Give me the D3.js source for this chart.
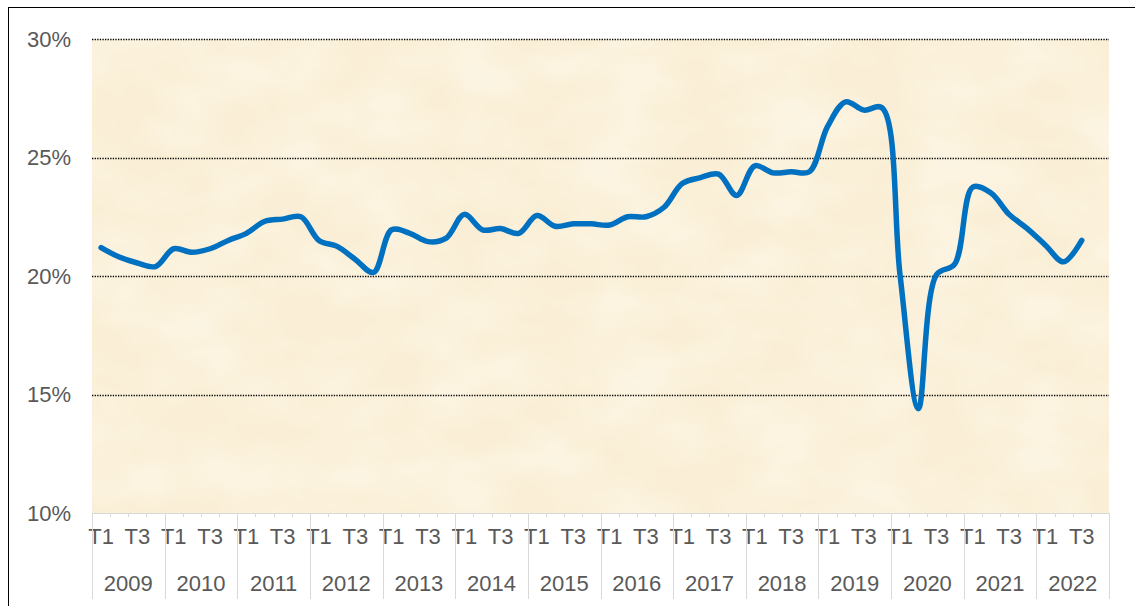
<!DOCTYPE html>
<html>
<head>
<meta charset="utf-8">
<script src="https://cdn.jsdelivr.net/npm/d3@7"></script>
<style>
  body { margin: 0; background: #fff; }
  svg { display: block; font-family: "Liberation Sans", Arial, sans-serif; }
</style>
</head>
<body>
<div id="chart"></div>
<script>
// quarterly rate, 2009 T1 .. 2022 T3
var years = [2009, 2010, 2011, 2012, 2013, 2014, 2015, 2016, 2017, 2018, 2019, 2020, 2021, 2022];
var quarters = ["T1", "T2", "T3", "T4"];
var shownQuarters = ["T1", "T3"];
var rate = [
  21.2, 20.8, 20.55, 20.4,
  21.15, 21.0, 21.15, 21.5,
  21.8, 22.3, 22.4, 22.5,
  21.5, 21.25, 20.7, 20.15,
  21.95, 21.8, 21.45, 21.6,
  22.6, 21.95, 22.0, 21.8,
  22.55, 22.1, 22.2, 22.2,
  22.15, 22.5, 22.5, 22.9,
  23.9, 24.15, 24.3, 23.4,
  24.65, 24.35, 24.4, 24.4,
  26.3, 27.35, 27.0, 27.1,
  20.0, 14.4, 20.05, 20.5,
  23.75, 23.5, 22.6, 22.0,
  21.3, 20.6, 21.5
];
var yTicks = [10, 15, 20, 25, 30];

var W = 1135, H = 606;
var plot = {left: 92, right: 1109, top: 39, bottom: 513};

var svg = d3.select("#chart").append("svg")
    .attr("width", W)
    .attr("height", H);

// chart frame (runs off the right/bottom edge)
svg.append("rect")
    .attr("x", 8.5).attr("y", 7.5)
    .attr("width", 1300).attr("height", 800)
    .attr("fill", "#fff")
    .attr("stroke", "#000")
    .attr("stroke-width", 1);

var keys = [];
years.forEach(function(y) {
  quarters.forEach(function(q) { keys.push(y + "-" + q); });
});
var data = rate.map(function(v, i) { return {key: keys[i], value: v}; });

var x = d3.scaleBand()
    .domain(keys)
    .range([plot.left, plot.right])
    .padding(0);

var xYear = d3.scaleBand()
    .domain(years)
    .range([plot.left, plot.right])
    .padding(0);

var y = d3.scaleLinear()
    .domain([10, 30])
    .range([plot.bottom, plot.top]);

// parchment-like plot background
var defs = svg.append("defs");
var f = defs.append("filter").attr("id", "paper")
    .attr("x", 0).attr("y", 0).attr("width", 1).attr("height", 1);
f.append("feTurbulence")
    .attr("type", "fractalNoise")
    .attr("baseFrequency", "0.012 0.02")
    .attr("numOctaves", 3)
    .attr("seed", 4)
    .attr("result", "noise");
f.append("feColorMatrix")
    .attr("in", "noise")
    .attr("type", "matrix")
    .attr("values", "0 0 0 0 1  0 0 0 0 0.97  0 0 0 0 0.9  0 0 0 0.9 -0.3")
    .attr("result", "tint");
f.append("feComposite").attr("in", "tint").attr("in2", "SourceGraphic").attr("operator", "in");

svg.append("rect")
    .attr("x", plot.left).attr("y", plot.top)
    .attr("width", plot.right - plot.left)
    .attr("height", plot.bottom - plot.top)
    .attr("fill", "#faefd6");
svg.append("rect")
    .attr("x", plot.left).attr("y", plot.top)
    .attr("width", plot.right - plot.left)
    .attr("height", plot.bottom - plot.top)
    .attr("fill", "#000")
    .attr("filter", "url(#paper)");

// dotted gridlines
svg.append("g")
  .selectAll("line")
  .data(yTicks.filter(function(t) { return t > 10; }))
  .enter().append("line")
    .attr("x1", plot.left).attr("x2", plot.right)
    .attr("y1", function(d) { return Math.round(y(d)) + 0.5; })
    .attr("y2", function(d) { return Math.round(y(d)) + 0.5; })
    .attr("stroke", "#000")
    .attr("stroke-width", 1.6)
    .attr("stroke-dasharray", "1.3,1.3");

// y axis labels
var yAxis = svg.append("g")
    .attr("transform", "translate(" + plot.left + ",0)")
    .call(d3.axisLeft(y).tickValues(yTicks).tickSize(0).tickPadding(21)
      .tickFormat(function(d) { return d + "%"; }));
yAxis.select(".domain").remove();
yAxis.selectAll("text")
    .attr("fill", "#595959")
    .style("font-size", "22px")
    .style("font-family", "Liberation Sans, Arial, sans-serif");

// x axis: quarter ticks
var xAxis = svg.append("g")
    .attr("transform", "translate(0," + plot.bottom + ")")
    .call(d3.axisBottom(x).tickSize(0).tickPadding(15)
      .tickFormat(function(d) {
        var q = d.split("-")[1];
        return shownQuarters.indexOf(q) >= 0 ? q : "";
      }));
xAxis.select(".domain")
    .attr("stroke", "#d9d9d9");
xAxis.selectAll("text")
    .attr("fill", "#595959")
    .style("font-size", "22px")
    .style("font-family", "Liberation Sans, Arial, sans-serif");

// minor tick marks between quarters
svg.append("g")
  .selectAll("line")
  .data(keys)
  .enter().append("line")
    .attr("x1", function(d) { return Math.round(x(d)) + 0.5; })
    .attr("x2", function(d) { return Math.round(x(d)) + 0.5; })
    .attr("y1", plot.bottom)
    .attr("y2", plot.bottom + 4)
    .attr("stroke", "#d9d9d9");

// year separators and labels
svg.append("g")
  .selectAll("line")
  .data(years.concat(["end"]))
  .enter().append("line")
    .attr("x1", function(d) { return d === "end" ? plot.right + 0.5 : Math.round(xYear(d)) + 0.5; })
    .attr("x2", function(d) { return d === "end" ? plot.right + 0.5 : Math.round(xYear(d)) + 0.5; })
    .attr("y1", plot.bottom)
    .attr("y2", 599)
    .attr("stroke", "#d9d9d9");

svg.append("g")
  .selectAll("text")
  .data(years)
  .enter().append("text")
    .attr("x", function(d) { return xYear(d) + xYear.bandwidth() / 2; })
    .attr("y", 591)
    .attr("text-anchor", "middle")
    .attr("fill", "#595959")
    .style("font-size", "22px")
    .text(function(d) { return d; });

// the line
svg.append("path")
    .datum(data)
    .attr("fill", "none")
    .attr("stroke", "#0070c0")
    .attr("stroke-width", 5.5)
    .attr("stroke-linejoin", "round")
    .attr("stroke-linecap", "round")
    .attr("d", d3.line()
      .curve(d3.curveCatmullRom.alpha(0.5))
      .x(function(d) { return x(d.key) + x.bandwidth() / 2; })
      .y(function(d) { return y(d.value); }));
</script>
</body>
</html>
